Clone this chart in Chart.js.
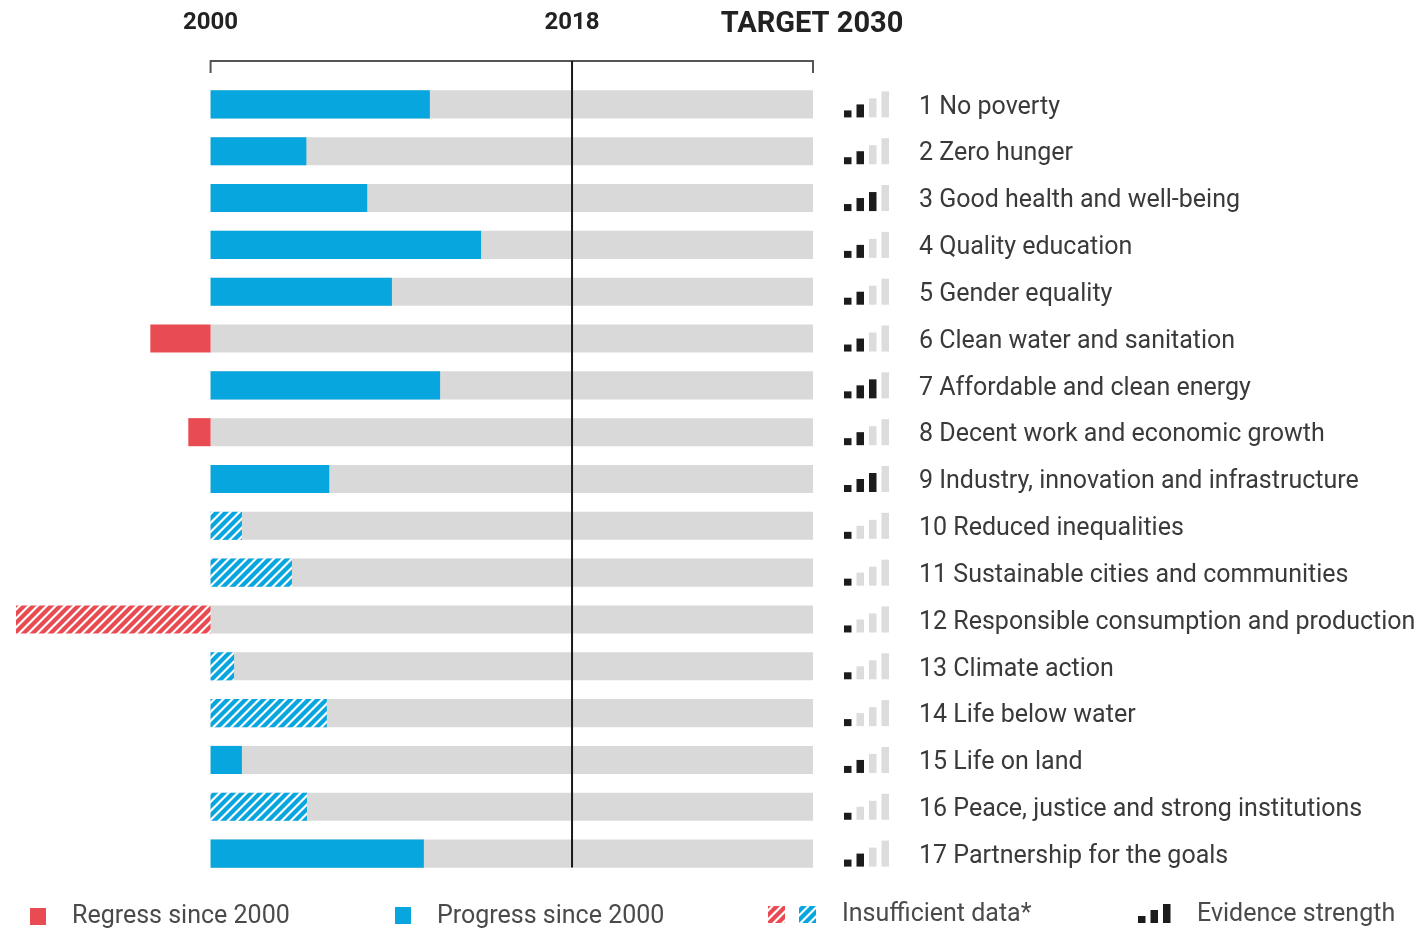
<!DOCTYPE html>
<html>
<head>
<meta charset="utf-8">
<script src="https://cdn.jsdelivr.net/npm/chart.js@4.4.1/dist/chart.umd.min.js"></script>
<style>
  body { margin: 0; background: #fff; }
  #wrap { width: 1417px; height: 930px; position: relative; }
</style>
</head>
<body>
<div id="wrap"><canvas id="sdgChart"></canvas></div>
<script>
// goals, top to bottom
const goals = [
  "1 No poverty", "2 Zero hunger", "3 Good health and well-being", "4 Quality education",
  "5 Gender equality", "6 Clean water and sanitation", "7 Affordable and clean energy",
  "8 Decent work and economic growth", "9 Industry, innovation and infrastructure",
  "10 Reduced inequalities", "11 Sustainable cities and communities",
  "12 Responsible consumption and production", "13 Climate action", "14 Life below water",
  "15 Life on land", "16 Peace, justice and strong institutions", "17 Partnership for the goals"
];
// change since 2000, 0 = 2000, 60 = 2018, 100 = target 2030
const change = [36.4, 15.9, 26.0, 44.9, 30.1, -10.0, 38.1, -3.7, 19.7, 5.2, 13.5, -32.3, 3.9, 19.3, 5.2, 16.0, 35.4];
// hatched rows (insufficient data)
const insufficient = [0, 0, 0, 0, 0, 0, 0, 0, 0, 1, 1, 1, 1, 1, 0, 1, 0];
// evidence strength, 1..4 dark bars
const evidence = [2, 2, 3, 2, 2, 2, 3, 2, 3, 1, 1, 1, 1, 1, 2, 1, 2];
const target = goals.map(() => 100);
const axisMarks = [
  { value: 0, text: "2000" },
  { value: 60, text: "2018" },
  { value: 100, text: "TARGET 2030" }
];

const BLUE = "#08a6df";
const RED = "#e84c52";
const GREY = "#d9d9d9";
const DARK = "#1c1c1c";
const FONT = "Roboto, 'Noto Sans', sans-serif";

function hatch(color) {
  const c = document.createElement("canvas");
  c.width = 9; c.height = 9;
  const g = c.getContext("2d");
  g.fillStyle = "#fff";
  g.fillRect(0, 0, 9, 9);
  g.strokeStyle = color;
  g.lineWidth = 4.2;
  g.beginPath();
  g.moveTo(-2, 11); g.lineTo(11, -2);
  g.moveTo(-11, 11); g.lineTo(2, -2);
  g.moveTo(7, 11); g.lineTo(20, -2);
  g.stroke();
  return document.getElementById("sdgChart").getContext("2d").createPattern(c, "repeat");
}
const redHatch = hatch(RED);
const blueHatch = hatch(BLUE);

const barColors = change.map((v, i) => {
  if (insufficient[i]) return v < 0 ? redHatch : blueHatch;
  return v < 0 ? RED : BLUE;
});

function evidenceIcon(ctx, x, bottom, n, total) {
  const heights = [7, 13, 19, 26];
  for (let k = 0; k < total; k++) {
    ctx.fillStyle = k < n ? DARK : "#dcdcdc";
    ctx.fillRect(x + k * 12.5, bottom - heights[k], 7.5, heights[k]);
  }
}

const extras = {
  id: "extras",
  afterDatasetsDraw(chart) {
    const ctx = chart.ctx;
    const x = chart.scales.x;
    const y = chart.scales.y;
    const x0 = x.getPixelForValue(0);
    const x60 = x.getPixelForValue(60);
    const x100 = x.getPixelForValue(100);
    ctx.save();

    // bracket over the bars
    ctx.strokeStyle = "#555";
    ctx.lineWidth = 2;
    ctx.beginPath();
    ctx.moveTo(x0, 73); ctx.lineTo(x0, 61); ctx.lineTo(x100, 61); ctx.lineTo(x100, 73);
    ctx.stroke();
    // 2018 line
    ctx.strokeStyle = "#1a1a1a";
    ctx.beginPath();
    ctx.moveTo(x60, 61); ctx.lineTo(x60, y.getPixelForValue(goals.length - 1) + 14);
    ctx.stroke();

    // year labels
    ctx.fillStyle = "#222";
    ctx.textAlign = "center";
    ctx.textBaseline = "middle";
    axisMarks.forEach(m => {
      const big = m.value === 100;
      ctx.font = big ? "bold 29px " + FONT : "bold 24px " + FONT;
      ctx.fillText(m.text, x.getPixelForValue(m.value) + (big ? -1 : 0), big ? 25 : 23);
    });

    // goal labels and evidence icons
    ctx.textAlign = "left";
    ctx.font = "25px " + FONT;
    goals.forEach((g, i) => {
      const cy = y.getPixelForValue(i);
      evidenceIcon(ctx, 844, cy + 13, evidence[i], 4);
      ctx.fillStyle = "#3a3a3a";
      ctx.fillText(g, 919, cy + 3);
    });

    // legend
    const ly = 916;
    ctx.font = "25px " + FONT;
    ctx.fillStyle = RED; ctx.fillRect(30, ly - 8, 16, 17);
    ctx.fillStyle = "#4a4a4a"; ctx.fillText("Regress since 2000", 72, ly + 1);
    ctx.fillStyle = BLUE; ctx.fillRect(395, ly - 9, 16, 17);
    ctx.fillStyle = "#4a4a4a"; ctx.fillText("Progress since 2000", 437, ly + 1);
    ctx.fillStyle = redHatch; ctx.fillRect(768, ly - 10, 17, 17);
    ctx.fillStyle = blueHatch; ctx.fillRect(799, ly - 10, 17, 17);
    ctx.fillStyle = "#4a4a4a"; ctx.fillText("Insufficient data*", 842, ly - 1);
    evidenceIcon(ctx, 1138, ly + 7, 3, 3);
    ctx.fillStyle = "#4a4a4a"; ctx.fillText("Evidence strength", 1197, ly - 1);
    ctx.restore();
  }
};

const data = {
  labels: goals,
  datasets: [
    {
      label: "Change since 2000",
      data: change,
      backgroundColor: barColors,
      grouped: false,
      barPercentage: 0.6,
      categoryPercentage: 1,
    },
    {
      label: "Target 2030",
      data: target,
      backgroundColor: GREY,
      grouped: false,
      barPercentage: 0.6,
      categoryPercentage: 1,
    },
  ],
};

const config = {
  type: "bar",
  data: data,
  options: {
    indexAxis: "y",
    maintainAspectRatio: false,
    responsive: true,
    animation: false,
    layout: { padding: { left: 16, right: 604, top: 81, bottom: 53 } },
    scales: {
      x: { display: false, min: -32.3, max: 100 },
      y: { display: false },
    },
    plugins: {
      legend: { display: false },
      tooltip: { enabled: false },
    },
  },
  plugins: [extras],
};

const ctx = document.getElementById("sdgChart").getContext("2d");
const sdgChart = new Chart(ctx, config);
</script>
</body>
</html>
